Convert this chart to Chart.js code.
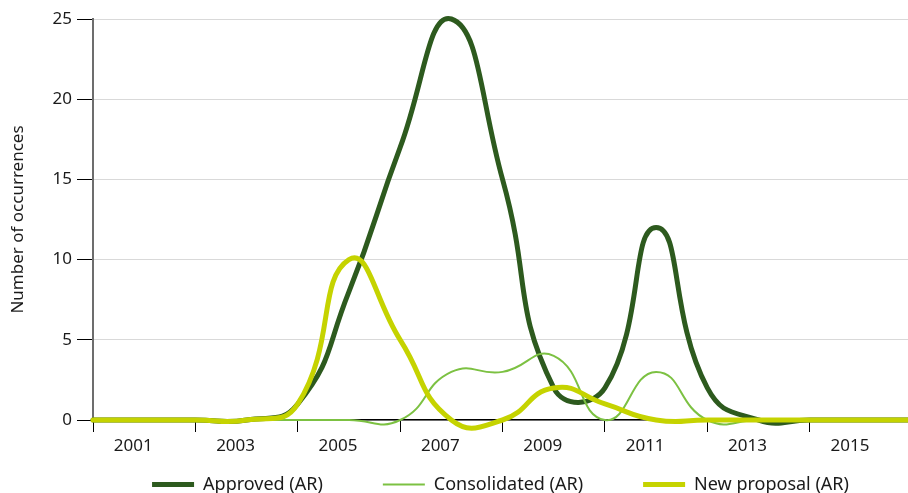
<!DOCTYPE html>
<html>
<head>
<meta charset="utf-8">
<script src="https://cdn.jsdelivr.net/npm/chart.js@4"></script>
<style>
  html, body { margin: 0; padding: 0; background: #fff; }
  #wrap { width: 908px; height: 493px; }
</style>
</head>
<body>
<div id="wrap"><canvas id="lineChart"></canvas></div>
<script>
// -------------------- Data --------------------
const years = [2000, 2001, 2002, 2003, 2004, 2005, 2006, 2007, 2008, 2009, 2010, 2011, 2012, 2013, 2014, 2015, 2016];
const approved    = [0, 0, 0, 0, 1, 8, 17, 25, 15, 2, 2, 12, 2, 0, 0, 0, 0];
const consolidated = [0, 0, 0, 0, 0, 0, 0, 3, 3, 4, 0, 3, 0, 0, 0, 0, 0];
const newProposal = [0, 0, 0, 0, 1, 10, 5, 0, 0, 2, 1, 0, 0, 0, 0, 0, 0];
const seriesNames = ["Approved (AR)", "Consolidated (AR)", "New proposal (AR)"];
const xMin = 2000;
const xMax = 2015.92;
const yTicks = [0, 5, 10, 15, 20, 25];

const FONT = "'Noto Sans', 'DejaVu Sans', sans-serif";
const textColor = "#1a1a1a";

function toPoints(values) {
    return years.map((y, i) => ({ x: y, y: values[i] }));
}

function lineSet(label, values, color, width, order) {
    return {
        label,
        data: toPoints(values),
        borderColor: color,
        backgroundColor: color,
        borderWidth: width,
        borderCapStyle: 'round',
        pointRadius: 0,
        tension: 0.5,
        capBezierPoints: false,
        clip: false,
        order
    };
}

// legend sits right under the tick labels, centred on the plot area
const legendSpot = {
    id: 'legendSpot',
    afterLayout(chart) {
        const lg = chart.legend;
        const h = lg.bottom - lg.top;
        lg.top = 415.5;
        lg.bottom = lg.top + h;
        const shift = (chart.chartArea.left + chart.chartArea.right) / 2 - (lg.left + lg.right) / 2;
        lg.left += shift;
        lg.right += shift;
    }
};

// -------------------- Chart --------------------
const ctx = document.getElementById("lineChart").getContext("2d");
new Chart(ctx, {
    type: 'line',
    data: {
        datasets: [
            lineSet(seriesNames[0], approved, "#2d5a1e", 5, 3),
            lineSet(seriesNames[1], consolidated, "#7cc142", 2, 2),
            lineSet(seriesNames[2], newProposal, "#c5d300", 5, 1)
        ]
    },
    plugins: [legendSpot],
    options: {
        responsive: true,
        maintainAspectRatio: false,
        animation: false,
        layout: { padding: { top: 19, left: 0, right: 0, bottom: -51 } },
        plugins: {
            tooltip: { enabled: false },
            legend: {
                position: 'bottom',
                labels: {
                    usePointStyle: true,
                    pointStyle: 'line',
                    pointStyleWidth: 42,
                    padding: 60,
                    color: textColor,
                    font: { family: FONT, size: 18 },
                    sort: (a, b) => a.datasetIndex - b.datasetIndex
                }
            }
        },
        scales: {
            x: {
                type: 'linear',
                min: xMin,
                max: xMax,
                afterFit: scale => { scale.height = 36; },
                border: { color: "#000", width: 1.5 },
                grid: {
                    drawOnChartArea: false,
                    drawTicks: true,
                    tickLength: 12,
                    tickWidth: 1,
                    tickColor: c => (c.tick && c.tick.value % 2 === 0) ? "#000" : "rgba(0,0,0,0)"
                },
                ticks: {
                    stepSize: 1,
                    autoSkip: false,
                    includeBounds: false,
                    maxRotation: 0,
                    labelOffset: -11,
                    padding: 4,
                    color: textColor,
                    font: { family: FONT, size: 17 },
                    callback: v => (v % 2 === 1) ? String(v) : ''
                }
            },
            y: {
                min: 0,
                max: 25,
                afterFit: scale => { scale.width = 93; },
                afterBuildTicks: scale => { scale.ticks = yTicks.map(v => ({ value: v })); },
                border: { color: "#6d6d6d", width: 2 },
                grid: {
                    color: "#d9d9d9",
                    lineWidth: 1,
                    tickLength: 16,
                    tickColor: "#000"
                },
                ticks: {
                    padding: 5,
                    color: textColor,
                    font: { family: FONT, size: 17 }
                },
                title: {
                    display: true,
                    text: "Number of occurrences",
                    color: textColor,
                    font: { family: FONT, size: 17 },
                    padding: { top: 8, bottom: 0 }
                }
            }
        }
    }
});
</script>
</body>
</html>
